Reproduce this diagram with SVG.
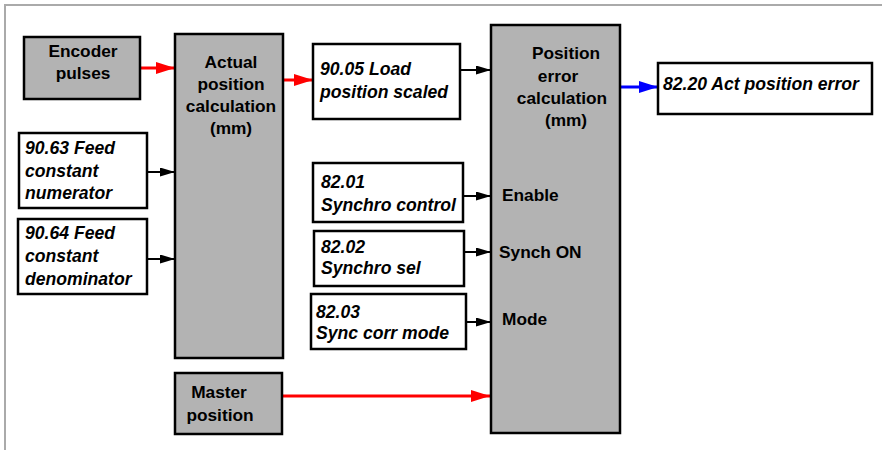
<svg xmlns="http://www.w3.org/2000/svg" width="882" height="450" viewBox="0 0 882 450">
<style>
.g{fill:#b3b3b3;stroke:#000;stroke-width:2.5}
.w{fill:#fff;stroke:#000;stroke-width:2.5}
.t{font-family:"Liberation Sans",Arial,sans-serif;font-weight:bold;font-size:17.3px;fill:#000}
.i{font-family:"Liberation Sans",Arial,sans-serif;font-weight:bold;font-style:italic;font-size:17.6px;fill:#000}
.c{text-anchor:middle}
.r{stroke:#f00;stroke-width:3;fill:none}
.b{stroke:#00f;stroke-width:3;fill:none}
.k{stroke:#000;stroke-width:2;fill:none}
</style>
<defs>
<marker id="ar" markerUnits="userSpaceOnUse" markerWidth="19" markerHeight="12" refX="19" refY="6" orient="auto"><path d="M0,0 L19,6 L0,12 Z" fill="#f00"/></marker>
<marker id="ab" markerUnits="userSpaceOnUse" markerWidth="19" markerHeight="12" refX="19" refY="6" orient="auto"><path d="M0,0 L19,6 L0,12 Z" fill="#00f"/></marker>
<marker id="ak" markerUnits="userSpaceOnUse" markerWidth="15" markerHeight="9" refX="15" refY="4.5" orient="auto"><path d="M0,0 L15,4.5 L0,9 Z" fill="#000"/></marker>
</defs>
<rect x="0" y="0" width="882" height="450" fill="#fff"/>
<path d="M5,450 L5,5 L882,5" fill="none" stroke="#aaa" stroke-width="2"/>

<g id="connectors">
<line class="r" x1="141" y1="68" x2="175" y2="68" marker-end="url(#ar)"/>
<line class="r" x1="284" y1="80" x2="313" y2="80" marker-end="url(#ar)"/>
<line class="k" x1="461" y1="70" x2="491" y2="70" marker-end="url(#ak)"/>
<line class="b" x1="621" y1="87" x2="658" y2="87" marker-end="url(#ab)"/>
<line class="k" x1="148" y1="172" x2="175" y2="172" marker-end="url(#ak)"/>
<line class="k" x1="148" y1="259" x2="175" y2="259" marker-end="url(#ak)"/>
<line class="k" x1="464" y1="196" x2="491" y2="196" marker-end="url(#ak)"/>
<line class="k" x1="465" y1="252" x2="491" y2="252" marker-end="url(#ak)"/>
<line class="k" x1="467" y1="322" x2="491" y2="322" marker-end="url(#ak)"/>
<line class="r" x1="283" y1="396" x2="490" y2="396" marker-end="url(#ar)"/>
</g>

<g id="encoder">
<rect class="g" x="24" y="37" width="116" height="62"/>
<text class="t c" x="83" y="57">Encoder</text>
<text class="t c" x="83" y="79">pulses</text>
</g>

<g id="actual">
<rect class="g" x="175" y="34" width="108" height="324"/>
<text class="t c" x="231" y="68">Actual</text>
<text class="t c" x="231" y="90">position</text>
<text class="t c" x="231" y="112">calculation</text>
<text class="t c" x="231" y="134">(mm)</text>
</g>

<g id="load">
<rect class="w" x="313" y="44" width="147" height="75"/>
<text class="i" x="320" y="75">90.05 Load</text>
<text class="i" x="320" y="98">position scaled</text>
</g>

<g id="poserr">
<rect class="g" x="491" y="25" width="129" height="408"/>
<text class="t c" x="566" y="59">Position</text>
<text class="t c" x="558" y="82">error</text>
<text class="t c" x="562" y="104">calculation</text>
<text class="t c" x="566" y="126">(mm)</text>
<text class="t" x="502" y="201">Enable</text>
<text class="t" x="499" y="258">Synch ON</text>
<text class="t" x="502" y="325">Mode</text>
</g>

<g id="acterr">
<rect class="w" x="658" y="63" width="214" height="51"/>
<text class="i" x="663" y="90">82.20 Act position error</text>
</g>

<g id="num">
<rect class="w" x="19" y="133" width="128" height="75"/>
<text class="i" x="25" y="154">90.63 Feed</text>
<text class="i" x="25" y="177">constant</text>
<text class="i" x="25" y="199">numerator</text>
</g>

<g id="den">
<rect class="w" x="18" y="219" width="129" height="75"/>
<text class="i" x="25" y="239">90.64 Feed</text>
<text class="i" x="25" y="262">constant</text>
<text class="i" x="25" y="285">denominator</text>
</g>

<g id="sync1">
<rect class="w" x="313" y="163" width="150" height="59"/>
<text class="i" x="321" y="188">82.01</text>
<text class="i" x="321" y="211">Synchro control</text>
</g>

<g id="sync2">
<rect class="w" x="314" y="231" width="150" height="55"/>
<text class="i" x="321" y="253">82.02</text>
<text class="i" x="321" y="274">Synchro sel</text>
</g>

<g id="sync3">
<rect class="w" x="311" y="294" width="155" height="55"/>
<text class="i" x="316" y="318">82.03</text>
<text class="i" x="316" y="339">Sync corr mode</text>
</g>

<g id="master">
<rect class="g" x="175" y="373" width="107" height="61"/>
<text class="t c" x="219" y="398">Master</text>
<text class="t c" x="220" y="421">position</text>
</g>
</svg>
